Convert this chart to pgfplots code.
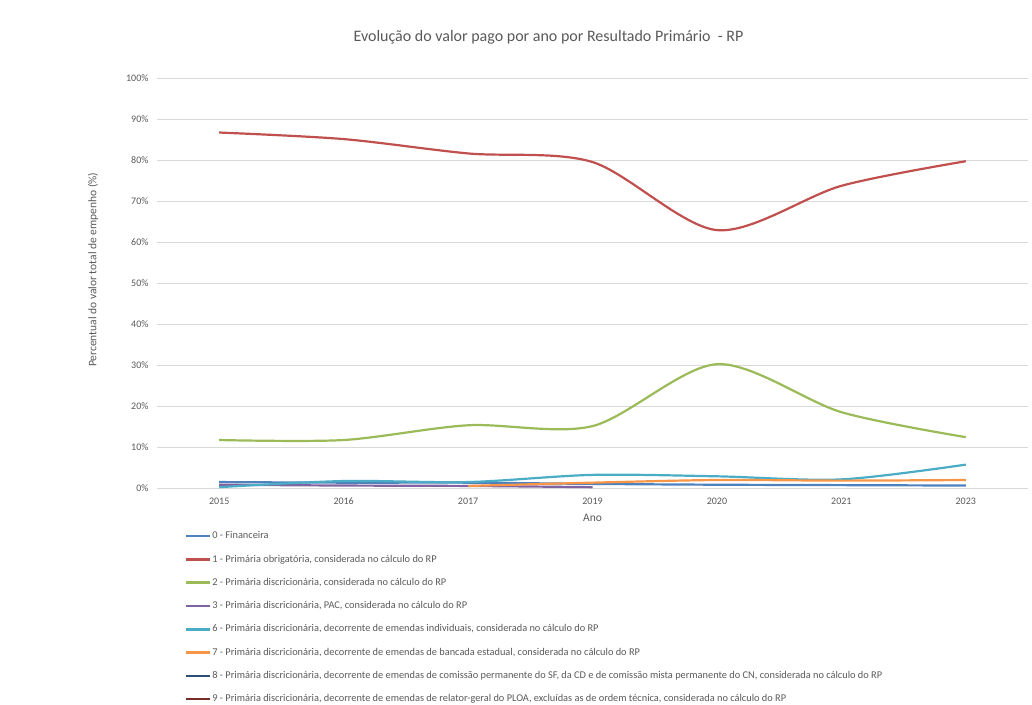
\documentclass[border=0pt]{standalone}
\usepackage{fontspec}
\setmainfont{Carlito}
\usepackage{pgfplots}
\pgfplotsset{compat=1.18}

\definecolor{txt}{HTML}{595959}
\definecolor{grd}{HTML}{D9D9D9}
\definecolor{s0}{HTML}{4F81BD}
\definecolor{s1}{HTML}{C0504D}
\definecolor{s2}{HTML}{9BBB59}
\definecolor{s3}{HTML}{8064A2}
\definecolor{s6}{HTML}{4BACC6}
\definecolor{s7}{HTML}{F79646}
\definecolor{s8}{HTML}{2C4D75}
\definecolor{s9}{HTML}{772C2A}

\begin{document}
\begin{tikzpicture}
\useasboundingbox (0,0) rectangle (1032pt,704pt);
\begin{axis}[
  at={(157pt,216pt)}, anchor=south west,
  scale only axis, width=871pt, height=410pt,
  xmin=-0.5, xmax=6.5, ymin=0, ymax=100,
  xtick={0,...,6},
  xticklabels={2015,2016,2017,2019,2020,2021,2023},
  ytick={0,10,...,100},
  yticklabel={\pgfmathprintnumber{\tick}\%},
  /pgf/number format/assume math mode=true,
  ymajorgrids, major grid style={grd, line width=0.9pt},
  axis line style={draw=none}, major tick length=0pt,
  tick label style={font=\fontsize{10}{12}\selectfont, text=txt},
  yticklabel style={xshift=-5pt},
  xticklabel style={yshift=-6pt},
  title={Evolução do valor pago por ano por Resultado Primário \ - RP},
  title style={at={(axis description cs:0.4495,1.085)}, anchor=center,
    font=\fontsize{16}{18}\selectfont, text=txt},
  xlabel={Ano},
  xlabel style={at={(axis description cs:0.5,-0.073)}, anchor=center,
    font=\fontsize{11.5}{13}\selectfont, text=txt},
  ylabel={Percentual do valor total de empenho (\%)},
  ylabel style={at={(axis description cs:-0.0735,0.532)}, anchor=center,
    rotate=0, font=\fontsize{11.5}{13}\selectfont, text=txt},
  every axis plot/.append style={line width=2.2pt, smooth, no markers},
  legend cell align=left,
  legend style={at={(axis description cs:0.032,-0.105)}, anchor=north west,
    draw=none, fill=none, inner sep=0pt, row sep=13.8pt, column sep=0pt,
    font=\fontsize{10.35}{12}\selectfont, text=txt,
    nodes={inner sep=0pt, text height=7.5pt, text depth=2pt}},
  legend image code/.code={
    \path[draw=none, fill=none] (0pt,-1pt) rectangle (26pt,1pt);
    \draw[#1, line width=2.6pt] (0pt,0pt) -- (24pt,0pt);},
]
\addplot[s0] coordinates {(0,1.45) (1,1.3) (2,1.3) (3,1.0) (4,0.8) (5,0.7) (6,0.6)};
\addlegendentry{0 - Financeira}
\addplot[s1] coordinates {(0,86.7) (1,85.1) (2,81.6) (3,79.5) (4,62.9) (5,73.7) (6,79.7)};
\addlegendentry{1 - Primária obrigatória, considerada no cálculo do RP}
\addplot[s2] coordinates {(0,11.7) (1,11.7) (2,15.3) (3,15.1) (4,30.2) (5,18.5) (6,12.4)};
\addlegendentry{2 - Primária discricionária, considerada no cálculo do RP}
\addplot[s3] coordinates {(0,0.8) (1,0.6) (2,0.5) (3,0.2)};
\addlegendentry{3 - Primária discricionária, PAC, considerada no cálculo do RP}
\addplot[s6] coordinates {(0,0.2) (1,1.7) (2,1.45) (3,3.2) (4,2.85) (5,2.1) (6,5.7)};
\addlegendentry{6 - Primária discricionária, decorrente de emendas individuais, considerada no cálculo do RP}
\addplot[s7] coordinates {(2,0.5) (3,1.3) (4,1.95) (5,1.8) (6,1.95)};
\addlegendentry{7 - Primária discricionária, decorrente de emendas de bancada estadual, considerada no cálculo do RP}
\addlegendimage{s8}
\addlegendentry{8 - Primária discricionária, decorrente de emendas de comissão permanente do SF, da CD e de comissão mista permanente do CN, considerada no cálculo do RP}
\addlegendimage{s9}
\addlegendentry{9 - Primária discricionária, decorrente de emendas de relator-geral do PLOA, excluídas as de ordem técnica, considerada no cálculo do RP}
\end{axis}
\end{tikzpicture}
\end{document}
